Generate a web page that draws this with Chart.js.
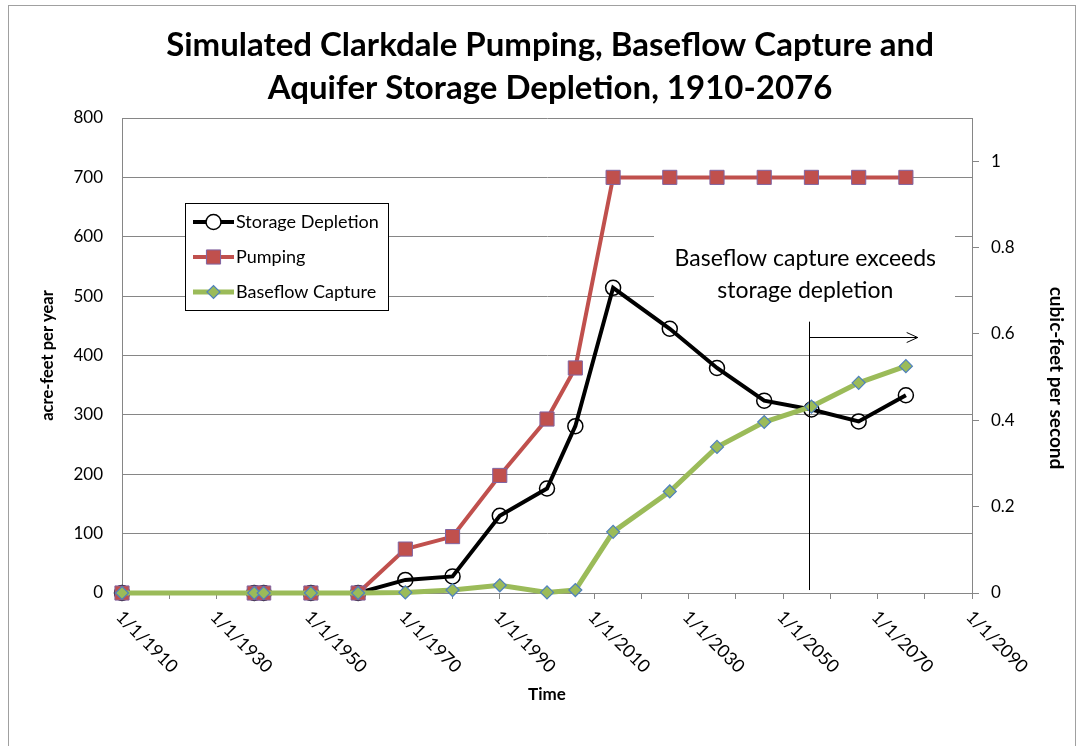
<!DOCTYPE html>
<html>
<head>
<meta charset="utf-8">
<script src="https://cdn.jsdelivr.net/npm/chart.js@4.4.0/dist/chart.umd.min.js"></script>
<style>
  html, body { margin: 0; padding: 0; background: #fff; }
  #wrap { width: 1083px; height: 746px; position: relative; }
</style>
</head>
<body>
<div id="wrap"><canvas id="c" width="1083" height="746"></canvas></div>
<script>
// data
const years = [1910, 1938, 1940, 1950, 1960, 1970, 1980, 1990, 2000, 2006, 2014, 2026, 2036, 2046, 2056, 2066, 2076];
const storageDepletion = [0, 0, 0, 0, 0, 22, 28, 130, 176, 281, 514, 445, 379, 324, 309, 289, 333];
const pumping = [0, 0, 0, 0, 0, 74, 95, 198, 293, 379, 700, 700, 700, 700, 700, 700, 700];
const baseflowCapture = [0, 0, 0, 0, 0, 1, 5, 13, 1, 5, 103, 171, 246, 288, 314, 354, 382];
const xTickYears = [1910, 1930, 1950, 1970, 1990, 2010, 2030, 2050, 2070, 2090];

const titleLines = ['Simulated Clarkdale Pumping, Baseflow Capture and', 'Aquifer Storage Depletion, 1910-2076'];
const noteLines = ['Baseflow capture exceeds', 'storage depletion'];

const GRID = '#868686';
const FONT = 'Lato, "Open Sans", sans-serif';

const pts = arr => years.map((yr, i) => ({ x: yr, y: arr[i] }));

// markers for the legend
function marker(ctx, ds, x, y) {
  ctx.save();
  ctx.lineWidth = ds.pointBorderWidth;
  ctx.strokeStyle = ds.pointBorderColor;
  ctx.beginPath();
  const r = ds.pointRadius;
  if (ds.pointStyle === 'circle') {
    ctx.arc(x, y, r, 0, Math.PI * 2);
    ctx.fillStyle = '#fff';
  } else if (ds.pointStyle === 'rect') {
    const s = r * Math.SQRT1_2;
    ctx.rect(x - s, y - s, 2 * s, 2 * s);
    ctx.fillStyle = ds.pointBackgroundColor;
  } else {
    ctx.moveTo(x - r, y); ctx.lineTo(x, y - r); ctx.lineTo(x + r, y); ctx.lineTo(x, y + r);
    ctx.closePath();
    ctx.fillStyle = ds.pointBackgroundColor;
  }
  ctx.fill();
  ctx.stroke();
  ctx.restore();
}

const decor = {
  id: 'decor',
  beforeDraw(chart) {
    const ctx = chart.ctx;
    ctx.save();
    ctx.fillStyle = '#fff';
    ctx.fillRect(0, 0, chart.width, chart.height);
    ctx.strokeStyle = '#a0a0a0';
    ctx.lineWidth = 1;
    ctx.strokeRect(8.5, 5.5, 1067, 800);
    ctx.restore();
  },
  afterDraw(chart) {
    const ctx = chart.ctx;
    const xs = chart.scales.x, ys = chart.scales.y;
    ctx.save();
    ctx.fillStyle = '#000';

    // title
    ctx.font = 'bold 33px ' + FONT;
    ctx.textAlign = 'center';
    ctx.textBaseline = 'alphabetic';
    ctx.fillText(titleLines[0], 550, 56);
    ctx.fillText(titleLines[1], 550, 99);

    // axis titles
    ctx.font = 'bold 17px ' + FONT;
    ctx.textBaseline = 'middle';
    ctx.fillText('Time', (xs.left + xs.right) / 2, 695);
    ctx.save();
    ctx.font = 'bold 16.5px ' + FONT;
    ctx.translate(48, (ys.top + ys.bottom) / 2);
    ctx.rotate(-Math.PI / 2);
    ctx.fillText('acre-feet per year', 0, 0);
    ctx.restore();
    ctx.save();
    ctx.font = 'bold 19px ' + FONT;
    ctx.translate(1056, 378);
    ctx.rotate(Math.PI / 2);
    ctx.fillText('cubic-feet per second', 0, 0);
    ctx.restore();

    // rotated date labels
    ctx.font = '18px ' + FONT;
    ctx.textAlign = 'left';
    xTickYears.forEach(yr => {
      const px = xs.getPixelForValue(yr);
      ctx.save();
      ctx.translate(px - 3, 614);
      ctx.rotate(Math.PI / 4);
      ctx.fillText('1/1/' + yr, 0, 0);
      ctx.restore();
    });

    // note box + arrow
    ctx.fillStyle = '#fff';
    ctx.fillRect(654, 232, 301, 74);
    ctx.fillStyle = '#000';
    ctx.font = '23px ' + FONT;
    ctx.textAlign = 'center';
    ctx.textBaseline = 'alphabetic';
    const nx = xs.getPixelForValue(2054.7);
    ctx.fillText(noteLines[0], nx, 266);
    ctx.fillText(noteLines[1], nx, 298);

    const lx = Math.round(xs.getPixelForValue(2055.4)) + 0.5;
    const ay = Math.round(ys.getPixelForValue(432)) + 0.5;
    const ax = xs.getPixelForValue(2078.5);
    ctx.strokeStyle = '#000';
    ctx.lineWidth = 1;
    ctx.beginPath();
    ctx.moveTo(lx, ys.getPixelForValue(457));
    ctx.lineTo(lx, ys.getPixelForValue(5));
    ctx.moveTo(lx, ay);
    ctx.lineTo(ax, ay);
    ctx.moveTo(ax - 11, ay - 5);
    ctx.lineTo(ax, ay);
    ctx.lineTo(ax - 11, ay + 5);
    ctx.stroke();

    // legend
    ctx.fillStyle = '#fff';
    ctx.fillRect(185, 203, 203, 107);
    ctx.strokeStyle = '#000';
    ctx.strokeRect(185.5, 203.5, 203, 107);
    const rows = [222, 257, 292];
    chart.data.datasets.forEach((ds, i) => {
      const y = rows[i];
      ctx.strokeStyle = ds.borderColor;
      ctx.lineWidth = ds.borderWidth;
      ctx.beginPath();
      ctx.moveTo(193, y);
      ctx.lineTo(234, y);
      ctx.stroke();
      marker(ctx, ds, 213.5, y);
      ctx.fillStyle = '#000';
      ctx.font = '18px ' + FONT;
      ctx.textAlign = 'left';
      ctx.textBaseline = 'middle';
      ctx.fillText(ds.label, 236, y);
    });
    ctx.restore();
  }
};

new Chart(document.getElementById('c').getContext('2d'), {
  type: 'line',
  data: {
    datasets: [
      {
        label: 'Storage Depletion', data: pts(storageDepletion),
        borderColor: '#000000', borderWidth: 4,
        pointStyle: 'circle', pointRadius: 7.5,
        pointBackgroundColor: 'rgba(0,0,0,0)', pointBorderColor: '#000000', pointBorderWidth: 1.5,
        order: 2, clip: false
      },
      {
        label: 'Pumping', data: pts(pumping),
        borderColor: '#C0504D', borderWidth: 4,
        pointStyle: 'rect', pointRadius: 10,
        pointBackgroundColor: '#C0504D', pointBorderColor: '#8064A2', pointBorderWidth: 1,
        order: 1, clip: false
      },
      {
        label: 'Baseflow Capture', data: pts(baseflowCapture),
        borderColor: '#9BBB59', borderWidth: 5,
        pointStyle: 'rectRot', pointRadius: 6.5,
        pointBackgroundColor: '#9BBB59', pointBorderColor: '#4F81BD', pointBorderWidth: 1.2,
        order: 0, clip: false
      }
    ]
  },
  options: {
    responsive: false,
    animation: false,
    layout: { padding: { top: 118, left: 0, right: 0, bottom: 0 } },
    plugins: { legend: { display: false }, title: { display: false }, tooltip: { enabled: false } },
    elements: { line: { tension: 0 } },
    scales: {
      x: {
        type: 'linear', min: 1910, max: 2090,
        afterFit: s => { s.height = 153; },
        ticks: { display: false, stepSize: 10 },
        grid: { drawOnChartArea: false, drawTicks: true, tickLength: 6, color: GRID },
        border: { color: GRID }
      },
      y: {
        position: 'left', min: 0, max: 800,
        afterFit: s => { s.width = 122; },
        ticks: { stepSize: 100, color: '#000', font: { family: FONT, size: 17 }, padding: 19 },
        grid: { color: GRID, drawTicks: false },
        border: { color: GRID }
      },
      y2: {
        position: 'right', min: 0, max: 1.1,
        afterFit: s => { s.width = 111; },
        ticks: {
          stepSize: 0.2, includeBounds: false, color: '#000',
          font: { family: FONT, size: 17 }, padding: 12,
          callback: v => +v.toFixed(1)
        },
        grid: { drawOnChartArea: false, tickLength: 7, color: GRID },
        border: { color: GRID }
      }
    }
  },
  plugins: [decor]
});
</script>
</body>
</html>
